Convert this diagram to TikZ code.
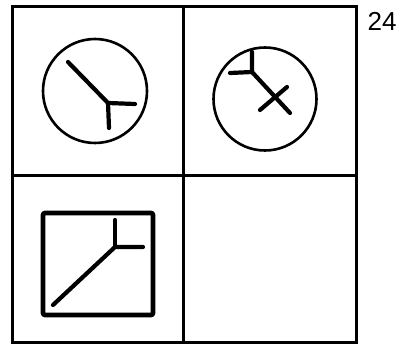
\documentclass[tikz,border=0pt]{standalone}
\usepackage{fontspec}
\setmainfont{Liberation Sans}
\usetikzlibrary{positioning}

\begin{document}
\begin{tikzpicture}[
  x=1pt,y=-1pt,
  frame/.style={line width=3pt},
  ring/.style={line width=2.6pt},
  glyph/.style={line width=4.2pt,line cap=round},
  panel/.style={line width=4.6pt,rounded corners=2pt},
  tag/.style={font=\fontsize{26}{26}\selectfont,inner sep=0pt}
]
\useasboundingbox (0,0) rectangle (404,347);
% grid
\draw[frame] (12,7) rectangle (356,342);
\draw[frame] (183,7) -- (183,342);
\draw[frame] (12,176) -- (356,176);
\node[tag] (num) at (382,21) {24};
% top left
\draw[ring] (95,91) circle (52);
\draw[glyph] (68,62) -- (108,103) -- (135,104);
\draw[glyph] (108,103) -- (109,128);
% top right
\draw[ring] (265,99) circle (51.5);
\draw[glyph] (252,52) -- (252,72) -- (230,73);
\draw[glyph] (252,72) -- (290,113);
\draw[glyph] (287,87) -- (260,110);
% bottom left
\draw[panel] (43,213) rectangle (153,315);
\draw[glyph] (53,305) -- (115,247) -- (143,247);
\draw[glyph] (115,247) -- (115,220);
\end{tikzpicture}
\end{document}
